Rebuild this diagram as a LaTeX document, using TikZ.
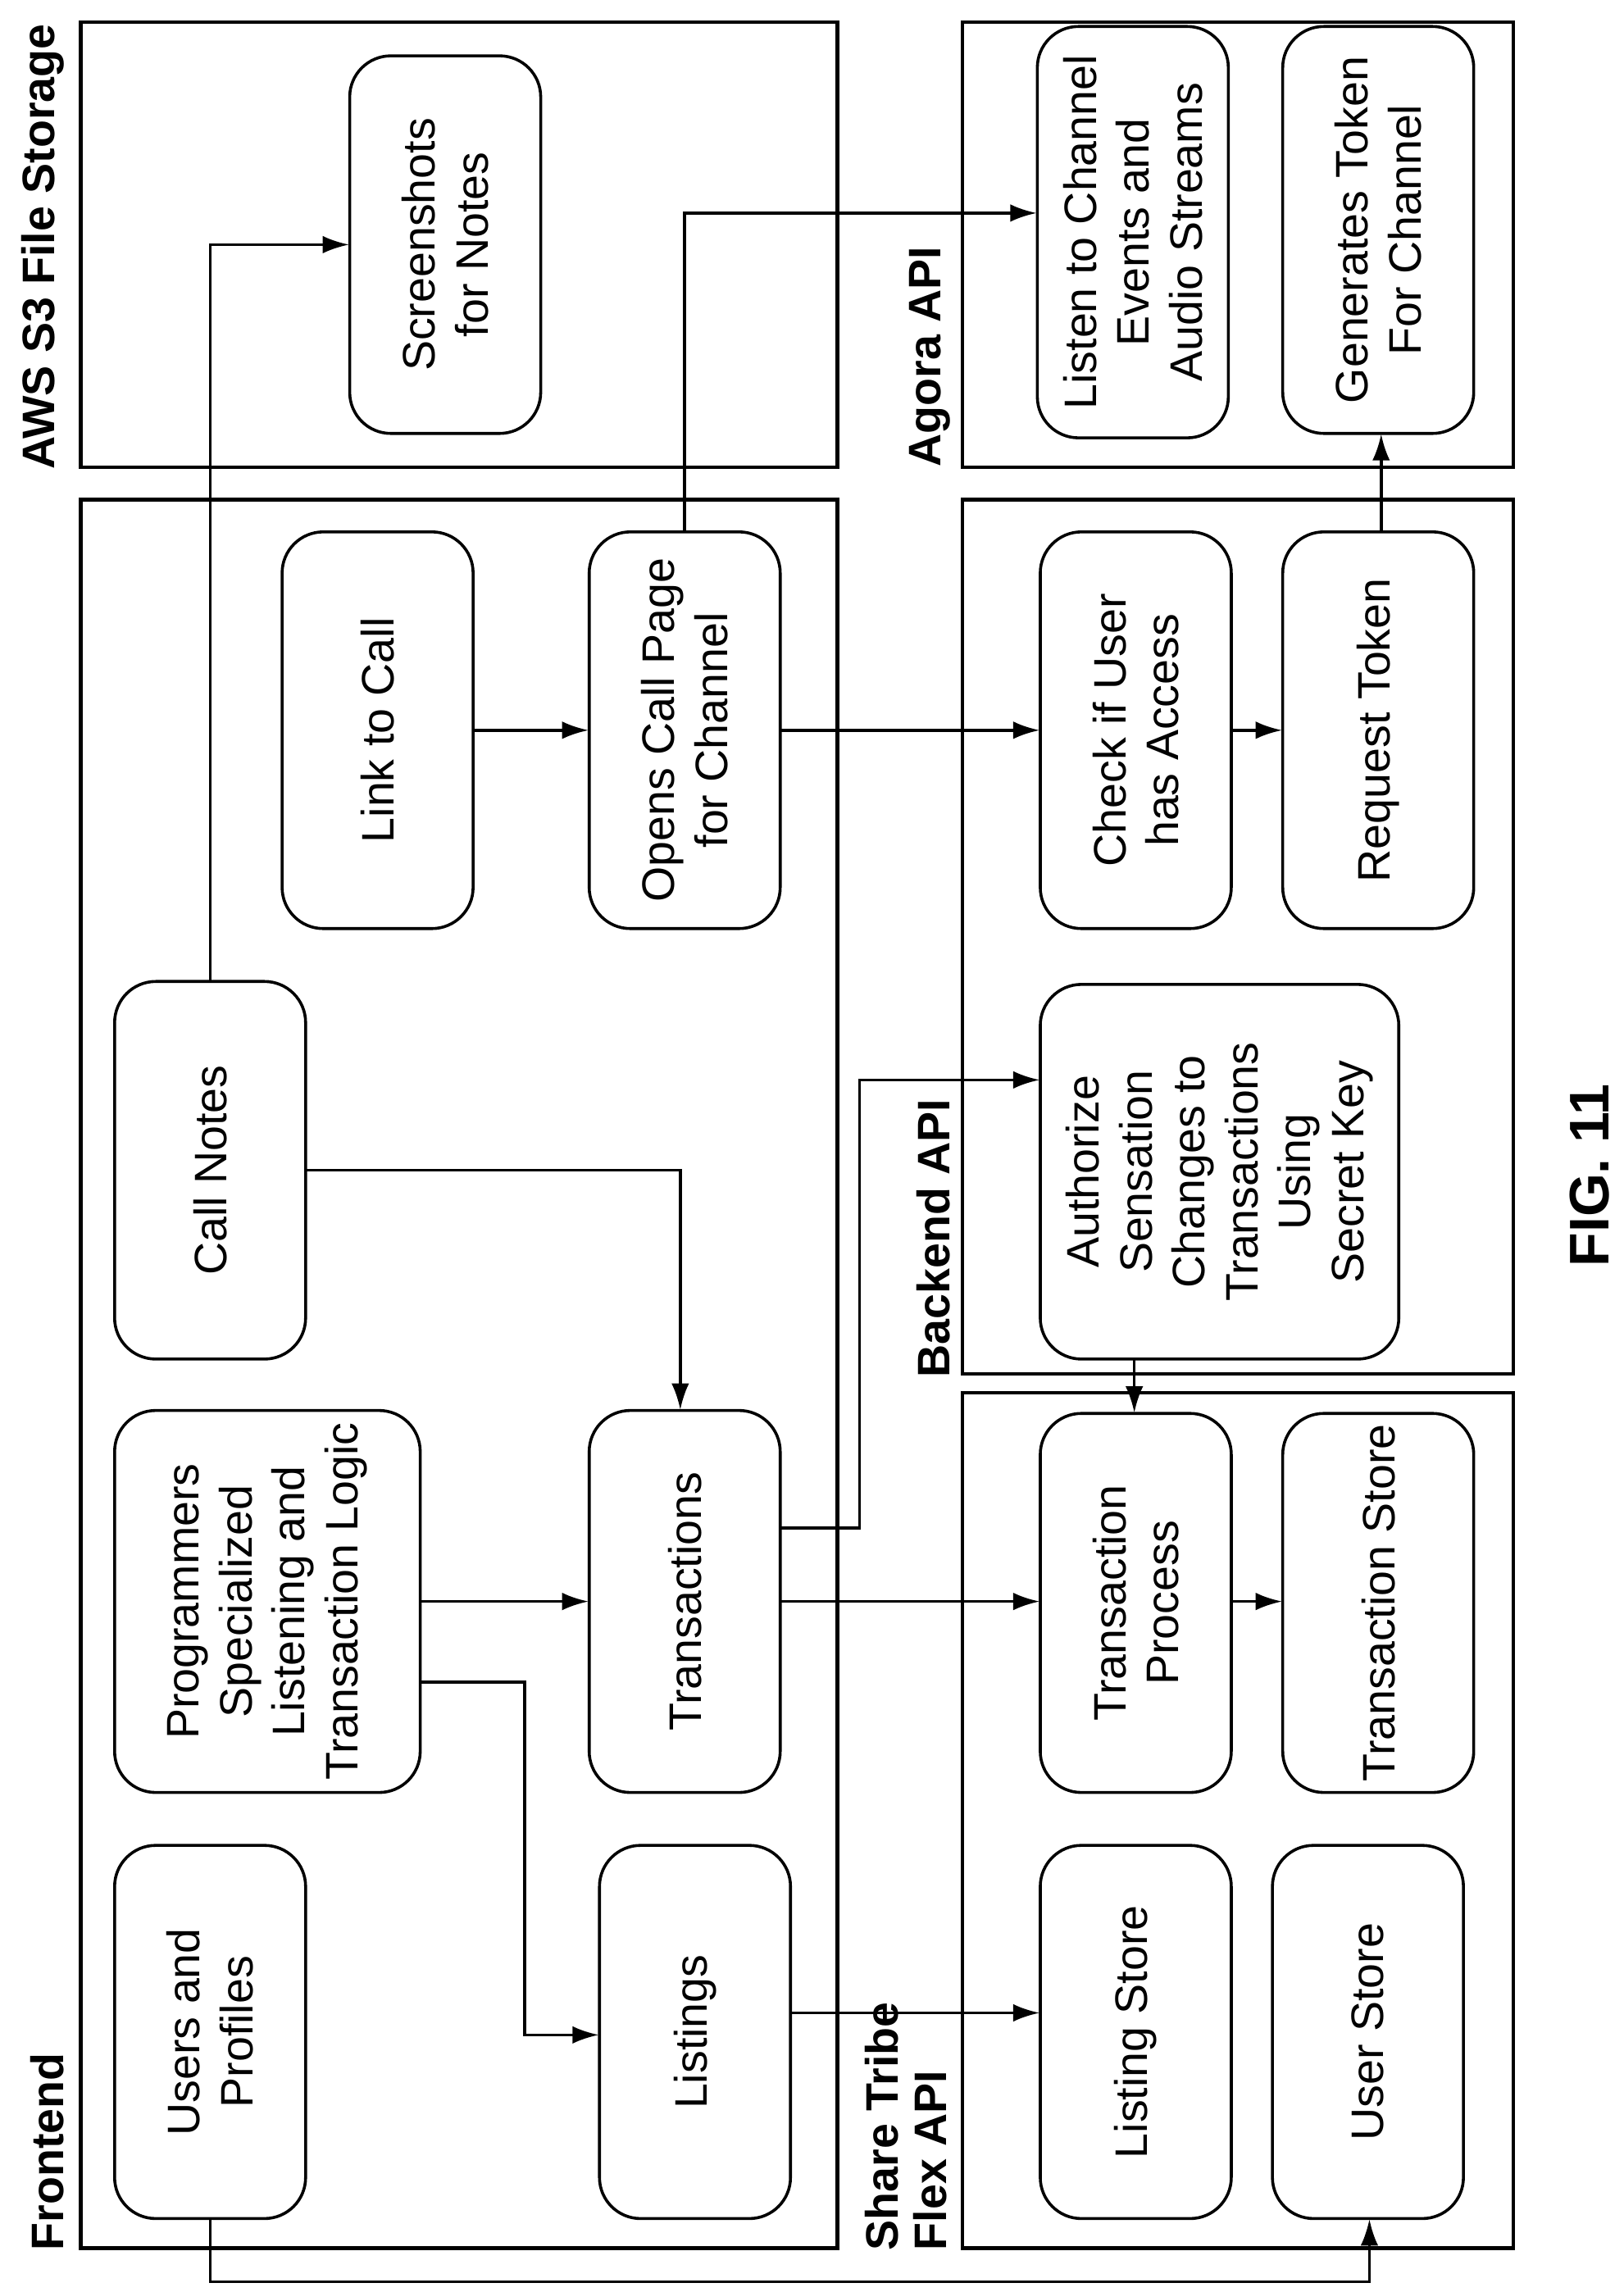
\documentclass[tikz,border=0pt]{standalone}
\usepackage{fontspec}
\setmainfont{Liberation Sans}
\usetikzlibrary{arrows.meta}
\begin{document}
\begin{tikzpicture}[x=0.5pt,y=-0.5pt,
  grp/.style={draw,line width=1.3pt},
  bx/.style={draw,line width=1pt,rounded corners=14pt},
  txt/.style={rotate=90,align=center,font=\fontsize{15.5}{18}\selectfont},
  ttl/.style={rotate=90,align=left,anchor=south west,font=\bfseries\fontsize{15.5}{16.5}\selectfont,inner sep=0pt},
  ar/.style={-{Latex[length=9pt,width=6pt]},line width=1pt}]
\useasboundingbox (0,0) rectangle (1105,1560);
\newcommand{\bxnode}[6]{%
  \draw[bx] (#2,#3) rectangle (#4,#5);
  \node[inner sep=0pt,minimum width={(#4-#2)*0.5pt},minimum height={(#5-#3)*0.5pt}] (#1) at ({(#2+#4)/2},{(#3+#5)/2}) {};
  \node[txt] at (#1) {#6};}
% groups
\draw[grp] (55,340) rectangle (570,1530);
\draw[grp] (55,15) rectangle (570,318);
\draw[grp] (655,15) rectangle (1030,318);
\draw[grp] (655,340) rectangle (1030,935);
\draw[grp] (655,948) rectangle (1030,1530);
\node[ttl] (tf) at (44,1532) {Frontend};
\node[ttl] (ta) at (44,320) {AWS S3 File Storage};
\node[ttl] (tg) at (647,318) {Agora API};
\node[ttl] (tb) at (647,938) {Backend API};
\node[ttl] (ts) at (645,1532) {Share Tribe\\Flex API};
\node[rotate=90,font=\bfseries\fontsize{19}{22}\selectfont] (fig) at (1082,800) {FIG. 11};
% boxes
\bxnode{ss}{238}{38}{368}{295}{Screenshots\\for Notes}
\bxnode{lc}{706}{18}{836}{298}{Listen to Channel\\Events and\\Audio Streams}
\bxnode{gt}{873}{18}{1003}{295}{Generates Token\\For Channel}
\bxnode{lk}{192}{362}{322}{632}{Link to Call}
\bxnode{oc}{401}{362}{531}{632}{Opens Call Page\\for Channel}
\bxnode{ck}{708}{362}{838}{632}{Check if User\\has Access}
\bxnode{rt}{873}{362}{1003}{632}{Request Token}
\bxnode{cn}{78}{668}{208}{925}{Call Notes}
\bxnode{au}{708}{670}{952}{925}{Authorize\\Sensation\\Changes to\\Transactions\\Using\\Secret Key}
\bxnode{pg}{78}{960}{286}{1220}{Programmers\\Specialized\\Listening and\\Transaction Logic}
\bxnode{tr}{401}{960}{531}{1220}{Transactions}
\bxnode{tp}{708}{962}{838}{1220}{Transaction\\Process}
\bxnode{tst}{873}{962}{1003}{1220}{Transaction Store}
\bxnode{up}{78}{1256}{208}{1510}{Users and\\Profiles}
\bxnode{li}{408}{1256}{538}{1510}{Listings}
\bxnode{ls}{708}{1256}{838}{1510}{Listing Store}
\bxnode{us}{866}{1256}{996}{1510}{User Store}
% connectors
\draw[ar] (cn.north) |- (ss.west);
\draw[ar] (oc.north -| 466,0) |- (lc.west |- 0,145);
\draw[ar] (lk.east) -- (oc.west);
\draw[ar] (oc.east) -- (ck.west);
\draw[ar] (ck.east) -- (rt.west);
\draw[ar] (rt.north -| 940,0) -- (gt.south -| 940,0);
\draw[ar] (cn.east) -| (tr.north -| 463,0);
\draw[ar] (au.south -| 772,0) -- (tp.north -| 772,0);
\draw[ar] (tr.east |- 0,1040) -| (585,735) -- (au.west |- 0,735);
\draw[ar] (pg.east |- 0,1090) -- (tr.west |- 0,1090);
\draw[ar] (tr.east |- 0,1090) -- (tp.west |- 0,1090);
\draw[ar] (tp.east |- 0,1090) -- (tst.west |- 0,1090);
\draw[ar] (pg.east |- 0,1145) -| (357,1385) -- (li.west |- 0,1385);
\draw[ar] (li.east |- 0,1370) -- (ls.west |- 0,1370);
\draw[ar] (up.south) -- (143,1553) -| (us.south -| 932,0);
\end{tikzpicture}
\end{document}
